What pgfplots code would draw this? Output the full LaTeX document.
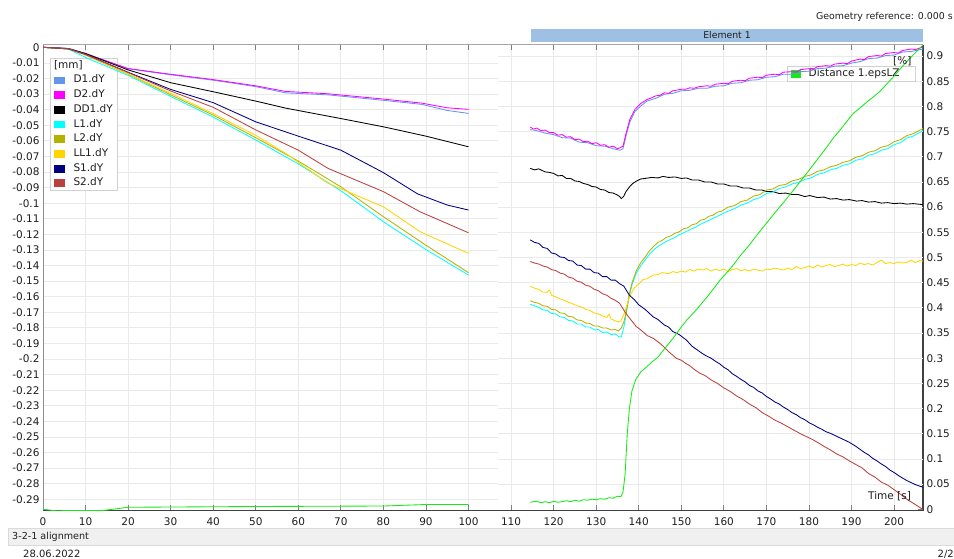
\documentclass[border=0pt]{standalone}
\usepackage{pgfplots}
\pgfplotsset{compat=1.18}
\usepackage{fontspec}
\setmainfont{DejaVu Sans}
\definecolor{cD1}{RGB}{100,149,237}
\definecolor{cD2}{RGB}{255,0,255}
\definecolor{cDD1}{RGB}{0,0,0}
\definecolor{cL1}{RGB}{0,255,255}
\definecolor{cL2}{RGB}{180,178,0}
\definecolor{cLL1}{RGB}{255,213,0}
\definecolor{cS1}{RGB}{0,0,128}
\definecolor{cS2}{RGB}{186,66,62}
\definecolor{cG}{RGB}{20,235,20}
\definecolor{gridc}{RGB}{234,234,234}
\definecolor{elem}{RGB}{158,192,227}
\definecolor{txt}{RGB}{30,30,30}
\begin{document}
\begin{tikzpicture}[font=\fontsize{10.5}{12.6}\selectfont, text=txt]
\useasboundingbox (0,0) rectangle (954pt,559pt);
\pgfplotsset{
  base/.style={scale only axis, width=880pt, height=466pt, at={(43pt,48pt)}, anchor=south west, xmin=0, xmax=206.8, clip=true},
  leftscale/.style={ymin=-0.2975, ymax=0.0015},
  rightscale/.style={ymin=-0.0034, ymax=0.922},
  dline/.style={line width=0.85pt, line join=round},
  legend image code/.code={\fill[#1] (0pt,-3.4pt) rectangle (9.5pt,3.4pt);},
}
% ---- axis 1: left scale, frame, x ticks, left ticks, grids, left legend
\begin{axis}[base, leftscale,
  axis line style={draw=none},
  tick align=inside, xtick pos=both, ytick pos=left,
  major tick length=5.5pt,
  tick style={draw=black!50, line width=0.8pt},
  tick label style={font=\fontsize{10.5}{12}\selectfont, text=txt},
  xticklabel style={yshift=-3.5pt},
  xtick={0,10,20,30,40,50,60,70,80,90,100,110,120,130,140,150,160,170,180,190,200},
  xticklabels={0,10,20,30,40,50,60,70,80,90,100,110,120,130,140,150,160,170,180,190,200},
  ytick={0,-0.01,-0.02,-0.03,-0.04,-0.05,-0.06,-0.07,-0.08,-0.09,-0.1,-0.11,-0.12,-0.13,-0.14,-0.15,-0.16,-0.17,-0.18,-0.19,-0.2,-0.21,-0.22,-0.23,-0.24,-0.25,-0.26,-0.27,-0.28,-0.29},
  yticklabels={0,-0.01,-0.02,-0.03,-0.04,-0.05,-0.06,-0.07,-0.08,-0.09,-0.1,-0.11,-0.12,-0.13,-0.14,-0.15,-0.16,-0.17,-0.18,-0.19,-0.2,-0.21,-0.22,-0.23,-0.24,-0.25,-0.26,-0.27,-0.28,-0.29},
  xmajorgrids, grid style={draw=gridc, line width=0.8pt},
  legend cell align=left,
  legend style={at={(0.008,0.972)}, anchor=north west, draw=black!18, fill=white,
    inner xsep=4pt, inner ysep=2pt, row sep=4.2pt, column sep=9.4pt,
    font=\fontsize{10.5}{12}\selectfont,
    nodes={inner sep=0pt, text height=8pt, text depth=2.5pt}},
]
\pgfplotsinvokeforeach{-0.01,-0.02,-0.03,-0.04,-0.05,-0.06,-0.07,-0.08,-0.09,-0.1,-0.11,-0.12,-0.13,-0.14,-0.15,-0.16,-0.17,-0.18,-0.19,-0.2,-0.21,-0.22,-0.23,-0.24,-0.25,-0.26,-0.27,-0.28,-0.29}{
  \draw[gridc, line width=0.8pt] (axis cs:0,#1) -- (axis cs:107,#1);
}
\draw[black!45, line width=1.6pt] (rel axis cs:0,0) -- (rel axis cs:0,1);
\draw[black!35, line width=1pt] (rel axis cs:0,1) -- (rel axis cs:1,1);
\draw[black!75, line width=1.3pt] (rel axis cs:0,0) -- (rel axis cs:1,0);
\addlegendimage{empty legend}\addlegendentry{\hspace*{-19.5pt}[mm]}
\addlegendimage{cD1}\addlegendentry{D1.dY}
\addlegendimage{cD2}\addlegendentry{D2.dY}
\addlegendimage{cDD1}\addlegendentry{DD1.dY}
\addlegendimage{cL1}\addlegendentry{L1.dY}
\addlegendimage{cL2}\addlegendentry{L2.dY}
\addlegendimage{cLL1}\addlegendentry{LL1.dY}
\addlegendimage{cS1}\addlegendentry{S1.dY}
\addlegendimage{cS2}\addlegendentry{S2.dY}
\end{axis}
% ---- axis 2: right scale, right ticks, right grid, right legend
\begin{axis}[base, rightscale,
  axis x line=none, axis y line*=right, xtick=\empty,
  tick align=inside, major tick length=5.5pt,
  tick style={draw=black!50, line width=0.8pt},
  y axis line style={draw=black!75, line width=1.3pt},
  tick label style={font=\fontsize{10.5}{12}\selectfont, text=txt},
  ytick={0,0.05,0.1,0.15,0.2,0.25,0.3,0.35,0.4,0.45,0.5,0.55,0.6,0.65,0.7,0.75,0.8,0.85,0.9},
  yticklabels={0,0.05,0.1,0.15,0.2,0.25,0.3,0.35,0.4,0.45,0.5,0.55,0.6,0.65,0.7,0.75,0.8,0.85,0.9},
  legend cell align=left,
  legend style={at={(0.845,0.955)}, anchor=north west, draw=black!18, fill=white,
    inner xsep=4pt, inner ysep=2.5pt, column sep=8pt,
    font=\fontsize{10.5}{12}\selectfont,
    nodes={inner sep=0pt, text height=8pt, text depth=2.5pt}},
]
\pgfplotsinvokeforeach{0.05,0.1,0.15,0.2,0.25,0.3,0.35,0.4,0.45,0.5,0.55,0.6,0.65,0.7,0.75,0.8,0.85,0.9}{
  \draw[gridc, line width=0.8pt] (axis cs:107,#1) -- (axis cs:206.8,#1);
}
\addlegendimage{cG}\addlegendentry{Distance 1.epsLZ\hspace*{12pt}}
\end{axis}
% ---- axis 3: left data
\begin{axis}[base, leftscale, hide axis]
\addplot[dline, cD1] coordinates {(0,0)(3,-0.0002)(6,-0.0008)(10,-0.004)(20,-0.0138)(30,-0.0176)(40,-0.0211)(50,-0.0252)(57,-0.0292)(67,-0.0305)(80,-0.034)(89,-0.0366)(95,-0.0405)(100,-0.0424)};
\addplot[dline, cD2] coordinates {(0,0)(3,-0.0002)(6,-0.0008)(10,-0.004)(20,-0.0136)(30,-0.0173)(40,-0.0207)(50,-0.0247)(57,-0.0283)(67,-0.0298)(80,-0.0332)(89,-0.0358)(95,-0.0388)(100,-0.0398)};
\addplot[dline, cDD1] coordinates {(0,0)(6,-0.0008)(10,-0.004)(20,-0.0145)(30,-0.0227)(40,-0.0285)(50,-0.0345)(57,-0.039)(70,-0.0457)(80,-0.051)(90,-0.057)(100,-0.0638)};
\addplot[dline, cL1] coordinates {(0,0)(6,-0.0012)(10,-0.0065)(20,-0.018)(30,-0.0315)(40,-0.0448)(50,-0.0595)(60,-0.0748)(70,-0.092)(80,-0.1119)(90,-0.1298)(100,-0.1461)};
\addplot[dline, cL2] coordinates {(0,0)(6,-0.001)(10,-0.005)(20,-0.0172)(30,-0.0305)(40,-0.0435)(50,-0.058)(60,-0.073)(70,-0.0895)(80,-0.1087)(90,-0.127)(100,-0.1446)};
\addplot[dline, cLL1] coordinates {(0,0)(6,-0.001)(10,-0.0048)(20,-0.0172)(30,-0.0295)(40,-0.0425)(50,-0.0565)(57,-0.068)(67,-0.0873)(80,-0.1023)(88.6,-0.1183)(100,-0.1322)};
\addplot[dline, cS1] coordinates {(0,0)(6,-0.001)(10,-0.0045)(20,-0.016)(30,-0.027)(40,-0.0355)(50,-0.0478)(60,-0.057)(70,-0.066)(80,-0.0804)(88,-0.094)(95,-0.1012)(100,-0.1044)};
\addplot[dline, cS2] coordinates {(0,0)(6,-0.001)(10,-0.0045)(20,-0.0162)(30,-0.028)(40,-0.0385)(50,-0.053)(60,-0.066)(67,-0.0777)(80,-0.0926)(88.6,-0.1055)(100,-0.119)};
\end{axis}
% ---- axis 4: right data
\begin{axis}[base, rightscale, hide axis]
\addplot[dline, cD1] coordinates {(114.5,0.754)(116,0.752)(118,0.747)(120,0.744)(122,0.738)(124,0.737)(126,0.729)(128,0.728)(130,0.722)(132,0.721)(134,0.716)(135.6,0.713)(136.3,0.716)(137,0.741)(137.9,0.769)(139.1,0.790)(140.5,0.801)(142,0.811)(144,0.816)(146,0.824)(148,0.826)(150,0.831)(152,0.832)(154,0.836)(156,0.836)(158,0.840)(160,0.841)(162,0.846)(164,0.847)(166,0.852)(168,0.853)(170,0.858)(172,0.859)(174,0.864)(176,0.864)(178,0.869)(180,0.870)(182,0.875)(184,0.876)(186,0.880)(188,0.881)(190,0.886)(192,0.889)(194,0.895)(196,0.896)(198,0.901)(200,0.902)(202,0.908)(204,0.909)(206.8,0.914)};
\addplot[dline, cD2] coordinates {(114.5,0.759)(115.3,0.755)(116,0.757)(117,0.752)(118,0.753)(119,0.748)(120,0.748)(121,0.743)(122,0.744)(123,0.739)(124,0.740)(125,0.734)(126,0.735)(127,0.730)(128,0.731)(129,0.726)(130,0.728)(131,0.723)(132,0.724)(133,0.719)(134,0.721)(135,0.716)(135.6,0.718)(136.3,0.721)(137,0.746)(137.9,0.774)(139.1,0.794)(140.5,0.806)(142,0.814)(143,0.817)(144,0.821)(145,0.822)(146,0.827)(147,0.826)(148,0.831)(150,0.834)(151,0.834)(152,0.837)(153,0.836)(154,0.839)(156,0.841)(157,0.840)(158,0.844)(160,0.846)(161,0.845)(162,0.850)(164,0.852)(165,0.851)(166,0.856)(168,0.858)(169,0.857)(170,0.862)(172,0.864)(173,0.863)(174,0.868)(176,0.869)(177,0.868)(178,0.873)(180,0.875)(181,0.874)(182,0.879)(184,0.881)(185,0.880)(186,0.884)(188,0.886)(189,0.885)(190,0.890)(192,0.894)(193,0.893)(194,0.899)(196,0.901)(197,0.900)(198,0.905)(200,0.907)(201,0.906)(202,0.911)(204,0.914)(205,0.913)(206.8,0.918)};
\addplot[dline, cDD1] coordinates {(114.5,0.677)(115.5,0.674)(116.5,0.676)(118,0.670)(119,0.669)(120,0.667)(121,0.662)(122,0.663)(123,0.657)(124,0.657)(125,0.652)(126,0.651)(127,0.647)(128,0.645)(129,0.641)(130,0.640)(131,0.635)(132,0.634)(133,0.629)(134,0.628)(135,0.624)(135.5,0.621)(135.9,0.617)(136.5,0.622)(137,0.631)(138,0.642)(138.6,0.647)(139.5,0.652)(140.5,0.656)(141.5,0.657)(143,0.659)(144.5,0.658)(145.7,0.661)(147,0.659)(148.5,0.660)(150,0.657)(151.2,0.658)(152.5,0.654)(154,0.654)(155.5,0.650)(157,0.650)(158.5,0.646)(160,0.646)(161.5,0.642)(163,0.642)(164.5,0.638)(166,0.638)(167.5,0.634)(169,0.634)(170,0.631)(171.5,0.631)(173,0.627)(174.5,0.628)(176,0.625)(177.5,0.625)(179,0.621)(180.2,0.623)(182,0.619)(183.5,0.620)(185,0.616)(186.5,0.617)(188,0.614)(189.5,0.615)(191.2,0.612)(192.5,0.613)(194,0.610)(195.5,0.611)(197,0.608)(198.5,0.609)(200,0.607)(201.5,0.608)(203,0.606)(204.5,0.607)(206.8,0.605)};
\addplot[dline, cL1] coordinates {(114.5,0.407)(115.5,0.404)(116.5,0.401)(117.5,0.396)(118.5,0.395)(119.5,0.389)(120.5,0.388)(121.5,0.382)(122.5,0.381)(123.5,0.375)(124.5,0.374)(125.5,0.368)(126.5,0.368)(127.5,0.362)(128.5,0.362)(129.5,0.356)(130.5,0.357)(131.5,0.351)(132.5,0.352)(133.5,0.347)(134.5,0.348)(135.3,0.343)(135.9,0.342)(136.5,0.362)(137,0.385)(137.8,0.425)(138.5,0.448)(139.5,0.470)(140.5,0.484)(141.5,0.495)(142.5,0.506)(143.5,0.515)(144.5,0.522)(145.5,0.527)(146.5,0.532)(147.5,0.536)(148.5,0.540)(149.5,0.545)(150.5,0.549)(151.5,0.553)(152.5,0.557)(153.5,0.561)(154.5,0.566)(155.5,0.570)(156.5,0.574)(157.5,0.578)(158.5,0.582)(159.5,0.586)(161,0.592)(162.5,0.597)(164,0.604)(165.5,0.608)(167,0.615)(168.5,0.619)(170,0.627)(171.5,0.630)(173,0.637)(174.5,0.640)(176,0.646)(177.5,0.649)(179,0.655)(180.5,0.658)(182,0.665)(183.5,0.668)(185,0.674)(186.5,0.677)(188,0.683)(189.5,0.686)(191,0.693)(192.5,0.696)(194,0.703)(195.5,0.706)(197,0.713)(198.5,0.716)(200,0.724)(201.5,0.728)(203,0.737)(204.5,0.741)(206.8,0.752)};
\addplot[dline, cL2] coordinates {(114.5,0.414)(115.5,0.411)(116.5,0.409)(117.5,0.404)(118.5,0.403)(119.5,0.397)(120.5,0.396)(121.5,0.390)(122.5,0.389)(123.5,0.383)(124.5,0.382)(125.5,0.376)(126.5,0.375)(127.5,0.370)(128.5,0.369)(129.5,0.364)(130.5,0.364)(131.5,0.360)(132.5,0.360)(133.5,0.356)(134.5,0.357)(135.2,0.354)(135.9,0.360)(136.5,0.372)(137,0.389)(137.8,0.429)(138.5,0.452)(139.5,0.475)(140.5,0.490)(141.5,0.501)(142.5,0.513)(143.5,0.522)(144.5,0.530)(145.5,0.534)(146.5,0.540)(147.5,0.543)(148.5,0.548)(149.5,0.551)(150.5,0.557)(151.5,0.559)(152.5,0.565)(153.5,0.567)(154.5,0.574)(155.5,0.576)(156.5,0.582)(157.5,0.584)(158.5,0.590)(159.5,0.592)(161,0.600)(162.5,0.603)(164,0.611)(165.5,0.614)(167,0.622)(168.5,0.625)(170,0.634)(171.5,0.636)(173,0.643)(174.5,0.645)(176,0.652)(177.5,0.655)(179,0.661)(180.5,0.664)(182,0.671)(183.5,0.674)(185,0.680)(186.5,0.683)(188,0.689)(189.5,0.692)(191,0.699)(192.5,0.702)(194,0.709)(195.5,0.712)(197,0.719)(198.5,0.722)(200,0.730)(201.5,0.734)(203,0.742)(204.5,0.746)(206.8,0.756)};
\addplot[dline, cLL1] coordinates {(114.5,0.443)(115.5,0.439)(116.5,0.437)(117.5,0.431)(118.5,0.431)(119,0.436)(119.5,0.425)(120.5,0.422)(121.5,0.418)(122.5,0.415)(123.5,0.411)(124.5,0.408)(125.5,0.404)(126.5,0.402)(127.5,0.397)(128.5,0.395)(129.5,0.390)(130.5,0.388)(131.5,0.384)(132.5,0.381)(133,0.388)(133.5,0.378)(134.5,0.374)(135.3,0.372)(135.8,0.374)(136.5,0.386)(137.2,0.405)(137.8,0.422)(139,0.440)(140.2,0.449)(141,0.456)(142,0.458)(143.4,0.465)(144.5,0.466)(145.5,0.470)(147,0.468)(148,0.472)(149,0.470)(150,0.473)(151,0.471)(152,0.476)(153,0.473)(154,0.477)(155,0.475)(156,0.478)(157,0.473)(158,0.477)(159,0.474)(160,0.477)(161,0.472)(162,0.476)(163,0.478)(164,0.474)(165,0.476)(166,0.473)(167,0.477)(168,0.475)(169,0.473)(170,0.477)(171,0.476)(172,0.479)(173,0.477)(174,0.475)(175,0.479)(176,0.476)(177,0.482)(178,0.478)(179,0.480)(180,0.483)(181,0.479)(182,0.485)(183,0.481)(184,0.484)(185,0.486)(186,0.482)(187,0.484)(188,0.487)(189,0.483)(190,0.486)(191,0.484)(192,0.489)(193,0.486)(194,0.488)(195,0.485)(196,0.490)(197,0.495)(198,0.488)(199,0.490)(200,0.488)(201,0.491)(202,0.489)(203,0.490)(204,0.495)(205,0.490)(206,0.494)(206.8,0.493)};
\addplot[dline, cS1] coordinates {(114.5,0.535)(115.5,0.530)(116.5,0.528)(117.5,0.520)(118.5,0.518)(119.5,0.509)(120.5,0.507)(121.5,0.501)(122.5,0.500)(123.5,0.494)(124.5,0.493)(125.5,0.485)(126.5,0.484)(127.5,0.477)(128.5,0.477)(129.5,0.470)(130.5,0.469)(131.5,0.462)(132.5,0.462)(133.5,0.455)(134.5,0.455)(135.5,0.448)(136.5,0.443)(137.8,0.425)(139,0.416)(140,0.406)(141.5,0.397)(143.4,0.382)(144.5,0.377)(146,0.366)(147,0.362)(148,0.353)(149.5,0.347)(151.2,0.336)(152.5,0.324)(154,0.315)(155,0.309)(156,0.304)(157,0.300)(158,0.294)(159,0.289)(160,0.282)(161,0.277)(162,0.269)(163,0.264)(164,0.258)(165,0.253)(166,0.246)(167,0.242)(168,0.235)(169,0.231)(170,0.224)(171,0.219)(172,0.213)(173,0.209)(174,0.203)(175,0.198)(176,0.192)(177,0.188)(178,0.182)(179,0.178)(180.2,0.171)(181,0.168)(182,0.163)(183,0.159)(184,0.154)(185,0.151)(186,0.147)(187,0.143)(188,0.139)(189.5,0.133)(191.2,0.124)(192,0.119)(193,0.113)(194,0.108)(195,0.101)(196,0.096)(197,0.090)(198,0.085)(199,0.078)(200,0.073)(201.4,0.065)(202,0.062)(203,0.057)(204,0.053)(205,0.049)(206,0.046)(206.8,0.044)};
\addplot[dline, cS2] coordinates {(114.5,0.492)(115.5,0.489)(116.5,0.487)(117.5,0.483)(118.5,0.481)(119.5,0.476)(120.5,0.474)(121.5,0.469)(122.5,0.467)(123.5,0.461)(124.5,0.459)(125.5,0.453)(126.5,0.451)(127.5,0.445)(128.5,0.443)(129.5,0.437)(130.5,0.434)(131.5,0.428)(132.5,0.425)(133.5,0.419)(134.5,0.415)(135.5,0.409)(137,0.389)(138,0.378)(139.4,0.363)(140.5,0.356)(142,0.345)(143.5,0.339)(144.9,0.330)(146,0.322)(147,0.313)(148,0.306)(148.8,0.300)(150,0.296)(151,0.290)(152,0.285)(153,0.278)(154.4,0.270)(155.5,0.266)(157,0.257)(158.5,0.250)(160,0.241)(161.5,0.234)(163,0.225)(164.5,0.218)(166,0.209)(167.5,0.202)(169,0.192)(170.5,0.185)(172,0.177)(173.5,0.171)(175,0.164)(176.5,0.157)(178,0.150)(179.5,0.144)(180.5,0.140)(182,0.133)(183.5,0.125)(185,0.118)(186.5,0.110)(188,0.104)(189.5,0.096)(191.2,0.088)(192.5,0.082)(194,0.071)(195.5,0.064)(197,0.054)(198.5,0.048)(200,0.039)(201.5,0.030)(203,0.020)(204.5,0.012)(206,0.004)(206.8,-0.001)};
\addplot[dline, cG] coordinates {(0,0)(3,-0.003)(6,-0.0025)(14,-0.0025)(20,0.004)(50,0.0055)(80,0.0065)(90,0.0095)(100,0.0095)};
\addplot[dline, cG] coordinates {(114.5,0.014)(116,0.016)(117,0.013)(118,0.015)(119,0.013)(120,0.016)(121,0.014)(122,0.015)(123,0.017)(124,0.015)(125,0.018)(126,0.016)(127,0.019)(128,0.018)(129,0.020)(130,0.019)(131,0.021)(132,0.020)(133,0.023)(134,0.022)(135,0.026)(135.8,0.025)(136.3,0.034)(136.8,0.070)(137.3,0.150)(137.8,0.200)(138.4,0.235)(139.3,0.258)(140.5,0.273)(142,0.284)(143,0.292)(144.5,0.302)(146,0.318)(148,0.339)(150,0.362)(151.3,0.376)(153,0.391)(154.4,0.405)(156,0.421)(157.5,0.437)(159.1,0.455)(160.5,0.468)(162.2,0.485)(164,0.505)(166,0.525)(168,0.547)(170,0.568)(172,0.589)(174,0.609)(176,0.630)(177.9,0.650)(180,0.673)(182,0.695)(184,0.717)(185.7,0.737)(187,0.750)(188.5,0.766)(190.4,0.786)(192,0.797)(193.5,0.808)(195,0.818)(196.7,0.830)(198,0.842)(200,0.860)(202,0.880)(204,0.898)(206.8,0.922)};
\end{axis}
% ---- surrounding texts and bars
\node[anchor=base east, inner sep=0pt, font=\fontsize{9.4}{11}\selectfont] at (953pt,539pt) {Geometry reference: 0.000 s};
\fill[elem] (530.7pt,517.3pt) rectangle (923.3pt,529.7pt);
\node[inner sep=0pt, font=\fontsize{9.3}{11}\selectfont] at (727pt,523.6pt) {Element 1};
\filldraw[fill=black!6, draw=black!14] (8pt,13.3pt) rectangle (960pt,30.7pt);
\node[anchor=base west, inner sep=0pt, font=\fontsize{9.6}{11}\selectfont] at (12pt,19.3pt) {3-2-1 alignment};
\node[anchor=west, inner sep=0pt, font=\fontsize{10}{12}\selectfont] at (23pt,5pt) {28.06.2022};
\node[anchor=east, inner sep=0pt, font=\fontsize{10}{12}\selectfont] at (954pt,5pt) {2/2};
\node[anchor=base west, inner sep=0pt] at (893pt,494pt) {[\%]};
\node[anchor=base west, inner sep=0pt] at (868pt,59pt) {Time [s]};
\end{tikzpicture}
\end{document}
